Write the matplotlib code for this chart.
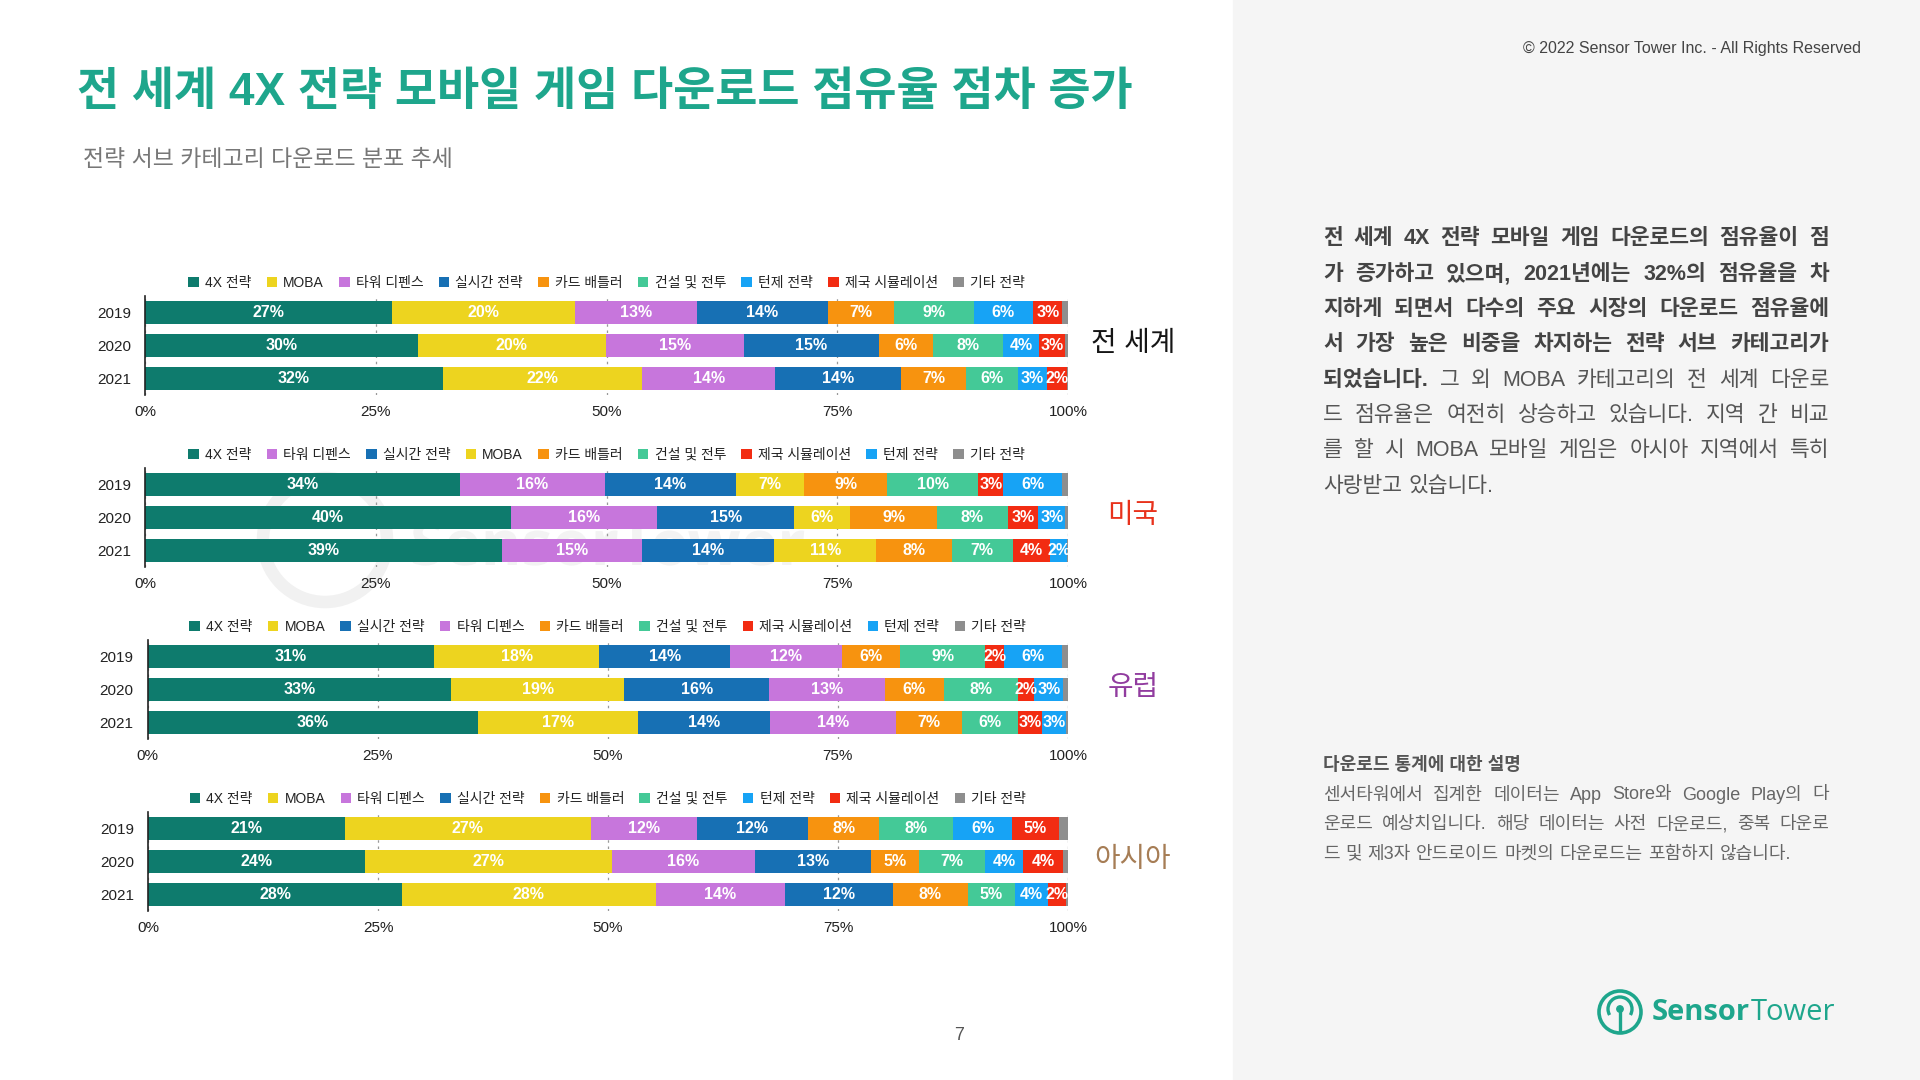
import matplotlib
matplotlib.use("Agg")
import matplotlib.pyplot as plt
from matplotlib.patches import Patch, Rectangle, Circle, Arc, PathPatch
from matplotlib.textpath import TextPath
from matplotlib.font_manager import FontProperties
import numpy as np

plt.rcParams["font.family"] = ["Liberation Sans", "Noto Sans CJK KR"]

# ---- data -------------------------------------------------------------
years = ["2019", "2020", "2021"]
x_ticks = [0, 25, 50, 75, 100]

# each row: share (%) of one sub-category for 2019, 2020, 2021
world_order = ["4X 전략", "MOBA", "타워 디펜스", "실시간 전략", "카드 배틀러",
               "건설 및 전투", "턴제 전략", "제국 시뮬레이션", "기타 전략"]
world_shares = [[26.8, 29.6, 32.3], [19.8, 20.3, 21.6], [13.2, 15.0, 14.4],
                [14.2, 14.6, 13.6], [7.2, 5.9, 7.1], [8.6, 7.6, 5.6],
                [6.4, 3.9, 3.1], [3.2, 2.8, 2.2], [0.6, 0.3, 0.1]]

us_order = ["4X 전략", "타워 디펜스", "실시간 전략", "MOBA", "카드 배틀러",
            "건설 및 전투", "제국 시뮬레이션", "턴제 전략", "기타 전략"]
us_shares = [[34.1, 39.6, 38.7], [15.7, 15.9, 15.1], [14.2, 14.8, 14.4],
             [7.4, 6.1, 11.0], [9.0, 9.4, 8.2], [9.9, 7.7, 6.6],
             [2.7, 3.3, 4.1], [6.4, 2.9, 1.8], [0.6, 0.3, 0.1]]

eu_order = ["4X 전략", "MOBA", "실시간 전략", "타워 디펜스", "카드 배틀러",
            "건설 및 전투", "제국 시뮬레이션", "턴제 전략", "기타 전략"]
eu_shares = [[31.1, 33.0, 35.9], [18.0, 18.8, 17.4], [14.2, 15.7, 14.3],
             [12.1, 12.6, 13.7], [6.4, 6.4, 7.2], [9.2, 8.1, 6.1],
             [2.1, 1.7, 2.6], [6.2, 3.2, 2.6], [0.7, 0.5, 0.2]]

asia_order = ["4X 전략", "MOBA", "타워 디펜스", "실시간 전략", "카드 배틀러",
              "건설 및 전투", "턴제 전략", "제국 시뮬레이션", "기타 전략"]
asia_shares = [[21.4, 23.6, 27.6], [26.7, 26.8, 27.6], [11.6, 15.6, 14.0],
               [12.0, 12.6, 11.8], [7.8, 5.2, 8.1], [8.0, 7.2, 5.1],
               [6.4, 4.1, 3.6], [5.1, 4.4, 2.0], [1.0, 0.5, 0.2]]

region_names = ["전 세계", "미국", "유럽", "아시아"]
region_colors = ["#151515", "#e8321c", "#913c9f", "#a67d55"]

COLORS = {
    "4X 전략": "#0e7b6d",
    "MOBA": "#edd41f",
    "타워 디펜스": "#c776dc",
    "실시간 전략": "#1770b4",
    "카드 배틀러": "#f7930f",
    "건설 및 전투": "#44c997",
    "턴제 전략": "#17a3f5",
    "제국 시뮬레이션": "#f22c12",
    "기타 전략": "#8e8e8e",
}
TEAL = "#1ea68c"

W, H = 1920, 1080


def draw_panel(ax, order, shares):
    y = np.arange(len(years))
    left = np.zeros(len(years))
    for name, vals in zip(order, shares):
        vals = np.array(vals)
        ax.barh(y, vals, left=left, height=0.7, color=COLORS[name], zorder=2)
        for yi, v, l in zip(y, vals, left):
            if v >= 1.5:
                ax.text(l + v / 2, yi, f"{v:.0f}%", ha="center", va="center",
                        color="white", fontsize=11.5, fontweight="bold", zorder=3)
        left += vals

    ax.set_xlim(0, 100)
    ax.set_ylim(2.5, -0.5)
    ax.set_xticks(x_ticks, [f"{t}%" for t in x_ticks])
    ax.set_yticks(y, years)
    ax.tick_params(axis="x", length=0, pad=7.5, labelsize=11, labelcolor="#222222")
    ax.tick_params(axis="y", length=0, pad=10, labelsize=11, labelcolor="#222222")
    ax.grid(axis="x", linestyle=(0, (2, 3)), color="#999999", linewidth=0.9)
    ax.set_axisbelow(True)
    for s in ["top", "right", "bottom"]:
        ax.spines[s].set_visible(False)
    ax.spines["left"].set_color("#222222")
    ax.spines["left"].set_linewidth(1.2)
    ax.patch.set_alpha(0)

    handles = [Patch(facecolor=COLORS[n], edgecolor="none", label=n) for n in order]
    ax.legend(handles=handles, loc="lower center", bbox_to_anchor=(0.5, 1.0),
              ncol=len(order), frameon=False, fontsize=10, handlelength=0.75,
              handleheight=0.75, handletextpad=0.45, columnspacing=1.1,
              borderpad=0, borderaxespad=0.45, labelcolor="#222222")


fig = plt.figure(figsize=(W / 100, H / 100), dpi=100)
fig.patch.set_facecolor("white")

# background layer in pixel coordinates
bg = fig.add_axes([0, 0, 1, 1], zorder=0)
bg.set_xlim(0, W)
bg.set_ylim(H, 0)
bg.axis("off")
bg.add_patch(Rectangle((1233, 0), W - 1233, H, color="#f5f5f5", zorder=0))

# faint watermark logo behind the US panel (drawn as a graphic)
bg.add_patch(Circle((325, 540), 62, fill=False, lw=9, color="#f1f1f1"))
wm = TextPath((0, 0), "SensorTower", size=62,
              prop=FontProperties(family="Open Sans", weight="bold"))
wm = wm.transformed(matplotlib.transforms.Affine2D().scale(1, -1).translate(410, 565))
bg.add_patch(PathPatch(wm, facecolor="#f3f3f3", edgecolor="none"))

# ---- charts -------------------------------------------------------------
panels = [(world_order, world_shares), (us_order, us_shares),
          (eu_order, eu_shares), (asia_order, asia_shares)]
tops = [296, 468, 640, 812]
lefts = [145, 145, 147.5, 148]
right, height = 1068, 99

for (order, shares), top, lft, name, col in zip(panels, tops, lefts,
                                                region_names, region_colors):
    ax = fig.add_axes([lft / W, 1 - (top + height) / H, (right - lft) / W, height / H],
                      zorder=2)
    draw_panel(ax, order, shares)
    bg.text(1133, top + 48, name, fontsize=20, color=col, ha="center", va="center")

# ---- texts ----------------------------------------------------------------
bg.text(77, 93, "전 세계 4X 전략 모바일 게임 다운로드 점유율 점차 증가",
        fontsize=33, fontweight="bold", color=TEAL, va="center")
bg.text(83, 159, "전략 서브 카테고리 다운로드 분포 추세", fontsize=16.5,
        color="#777777", va="center")
bg.text(1861, 48, "© 2022 Sensor Tower Inc. - All Rights Reserved", fontsize=11.5,
        color="#444444", ha="right", va="center")
bg.text(959, 1035, "7", fontsize=13, color="#555555", ha="center", va="center")

renderer = fig.canvas.get_renderer()


def put_line(words, x0, x1, y, size, justify=True):
    """words: list of (text, weight, color); spreads words to fill x0..x1."""
    ts, widths = [], []
    for text, weight, color in words:
        t = bg.text(0, y, text, fontsize=size, fontweight=weight, color=color,
                    va="center")
        ts.append(t)
        widths.append(t.get_window_extent(renderer).width)
    if justify and len(ts) > 1:
        gap = (x1 - x0 - sum(widths)) / (len(ts) - 1)
    else:
        gap = size * 100 / 72 * 0.3
    x = x0
    for t, w in zip(ts, widths):
        t.set_x(x)
        x += w + gap


B, N = "#444444", "#555555"
body = [
    ("전 세계 4X 전략 모바일 게임 다운로드의 점유율이 점", ""),
    ("가 증가하고 있으며, 2021년에는 32%의 점유율을 차", ""),
    ("지하게 되면서 다수의 주요 시장의 다운로드 점유율에", ""),
    ("서 가장 높은 비중을 차지하는 전략 서브 카테고리가", ""),
    ("되었습니다.", "그 외 MOBA 카테고리의 전 세계 다운로"),
    ("", "드 점유율은 여전히 상승하고 있습니다. 지역 간 비교"),
    ("", "를 할 시 MOBA 모바일 게임은 아시아 지역에서 특히"),
    ("", "사랑받고 있습니다."),
]
for i, (bold_part, plain_part) in enumerate(body):
    words = [(w, "bold", B) for w in bold_part.split()]
    words += [(w, "normal", N) for w in plain_part.split()]
    put_line(words, 1323, 1829, 239 + i * 35.3, 15.5, justify=i < len(body) - 1)

bg.text(1323, 765, "다운로드 통계에 대한 설명", fontsize=13, fontweight="bold",
        color="#555555", va="center")
note = [
    "센서타워에서 집계한 데이터는 App Store와 Google Play의 다",
    "운로드 예상치입니다. 해당 데이터는 사전 다운로드, 중복 다운로",
    "드 및 제3자 안드로이드 마켓의 다운로드는 포함하지 않습니다.",
]
for i, line in enumerate(note):
    put_line([(w, "normal", "#666666") for w in line.split()], 1323, 1829,
             795 + i * 29.5, 13, justify=i < len(note) - 1)

# ---- logo -------------------------------------------------------------------
cx, cy = 1620, 1012
bg.add_patch(Circle((cx, cy), 21, fill=False, lw=2.6, color=TEAL))
bg.add_patch(Arc((cx, cy - 3), 24, 24, theta1=150, theta2=30, lw=2.4, color=TEAL))
bg.plot([cx, cx], [cy - 3, cy + 21], color=TEAL, lw=2.4, solid_capstyle="butt")
bg.add_patch(Circle((cx, cy - 3), 3.2, color=TEAL))
t1 = bg.text(1652, cy, "Sensor", fontsize=21, fontweight="bold", color=TEAL,
             va="center", family="Open Sans")
w1 = t1.get_window_extent(renderer).width
bg.text(1652 + w1 + 1, cy, "Tower", fontsize=21, color=TEAL, va="center",
        family="Open Sans")

fig.savefig("out.png", dpi=100)
